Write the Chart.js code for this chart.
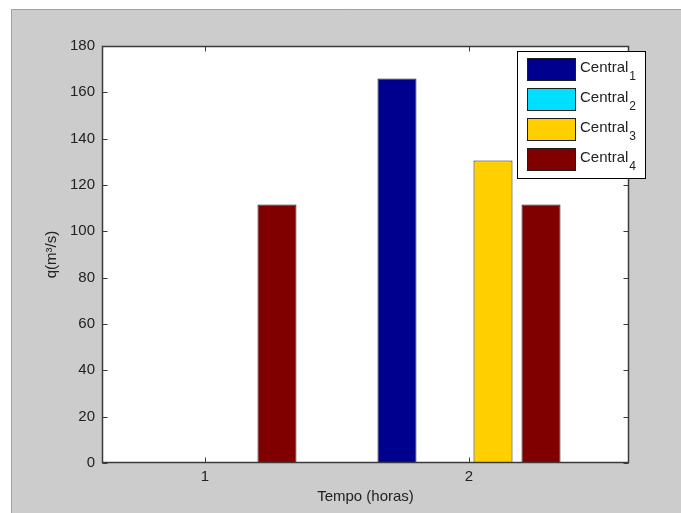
<!DOCTYPE html>
<html>
<head>
<meta charset="utf-8">
<script src="https://cdn.jsdelivr.net/npm/chart.js@4/dist/chart.umd.min.js"></script>
<style>
  html, body { margin: 0; padding: 0; background: #ffffff; }
  #wrap { width: 681px; height: 513px; }
</style>
</head>
<body>
<div id="wrap"><canvas id="c" width="681" height="513"></canvas></div>
<script>
// Hourly flow per plant (m3/s)
const periods = [1, 2];
const periodLabels = ['1', '2'];
const seriesNames = ['Central', 'Central', 'Central', 'Central'];
const seriesSubs = ['1', '2', '3', '4'];
const central1 = [0, 166];
const central2 = [0, 0];
const central3 = [0, 130.6];
const central4 = [111.6, 111.6];
const yTickValues = [0, 20, 40, 60, 80, 100, 120, 140, 160, 180];

const seriesValues = [central1, central2, central3, central4];
const seriesColors = ['#00008f', '#00dfff', '#ffcf00', '#800000'];

const FONT = '"Liberation Sans", Arial, sans-serif';
const TEXT = '#222222';
const AXIS = '#3a3a3a';
const EDGE = '#1e1e1e';

const datasets = seriesValues.map((vals, i) => ({
  label: seriesNames[i] + seriesSubs[i],
  data: periods.map((p, j) => ({ x: p, y: vals[j] })),
  backgroundColor: seriesColors[i],
  borderColor: EDGE,
  borderWidth: 1,
  borderSkipped: false,
  categoryPercentage: 0.7273,
  barPercentage: 0.8125
}));

// Figure frame, axes box, inward ticks and the legend with subscripts
const matlabLook = {
  id: 'matlabLook',
  beforeDraw(chart) {
    const { ctx, chartArea: a } = chart;
    ctx.save();
    ctx.fillStyle = '#ffffff';
    ctx.fillRect(0, 0, chart.width, chart.height);
    ctx.fillStyle = '#cccccc';
    ctx.fillRect(11, 9, chart.width - 11, chart.height - 9);
    ctx.strokeStyle = '#a0a0a0';
    ctx.lineWidth = 1;
    ctx.beginPath();
    ctx.moveTo(11.5, chart.height);
    ctx.lineTo(11.5, 9.5);
    ctx.lineTo(chart.width, 9.5);
    ctx.stroke();
    ctx.fillStyle = '#ffffff';
    ctx.fillRect(a.left, a.top, a.right - a.left, a.bottom - a.top);
    ctx.restore();
  },
  afterDatasetsDraw(chart) {
    const { ctx, chartArea: a, scales } = chart;
    const x = scales.x, y = scales.y;
    ctx.save();
    ctx.strokeStyle = AXIS;
    ctx.lineWidth = 1;
    const L = Math.round(a.left) + 0.5, R = Math.round(a.right) - 0.5;
    const T = Math.round(a.top) + 0.5, B = Math.round(a.bottom) - 0.5;
    ctx.beginPath();
    yTickValues.forEach(v => {
      const py = Math.round(y.getPixelForValue(v)) + 0.5;
      ctx.moveTo(L, py); ctx.lineTo(L + 5, py);
      ctx.moveTo(R, py); ctx.lineTo(R - 5, py);
    });
    periods.forEach(v => {
      const px = Math.round(x.getPixelForValue(v)) + 0.5;
      ctx.moveTo(px, B); ctx.lineTo(px, B - 5);
      ctx.moveTo(px, T); ctx.lineTo(px, T + 5);
    });
    ctx.stroke();
    ctx.lineWidth = 1.5;
    ctx.strokeRect(L, T, R - L, B - T);
    ctx.restore();
  },
  afterDraw(chart) {
    const { ctx } = chart;
    const bx = 517, by = 51, bw = 128, bh = 127;
    ctx.save();
    ctx.fillStyle = '#ffffff';
    ctx.fillRect(bx, by, bw, bh);
    ctx.strokeStyle = '#000000';
    ctx.lineWidth = 1;
    ctx.strokeRect(bx + 0.5, by + 0.5, bw, bh);
    seriesNames.forEach((name, i) => {
      const top = 58 + i * 30;
      ctx.fillStyle = seriesColors[i];
      ctx.fillRect(527, top, 49, 23);
      ctx.strokeStyle = EDGE;
      ctx.strokeRect(527.5, top + 0.5, 48, 22);
      ctx.fillStyle = TEXT;
      ctx.textAlign = 'left';
      ctx.textBaseline = 'alphabetic';
      ctx.font = '15px ' + FONT;
      ctx.fillText(name, 580, 72 + i * 30);
      const w = ctx.measureText(name).width;
      ctx.font = '12px ' + FONT;
      ctx.fillText(seriesSubs[i], 580 + w + 1, 79.5 + i * 30);
    });
    ctx.restore();
  }
};

new Chart(document.getElementById('c'), {
  type: 'bar',
  data: { datasets },
  options: {
    responsive: false,
    animation: false,
    devicePixelRatio: 1,
    layout: { padding: { left: 0, top: 46, right: 52, bottom: 0 } },
    plugins: { legend: { display: false }, tooltip: { enabled: false } },
    scales: {
      x: {
        type: 'linear',
        offset: false,
        min: 0.61,
        max: 2.606,
        grid: { display: false, drawTicks: false, offset: false },
        border: { display: false },
        afterBuildTicks: s => { s.ticks = periods.map(v => ({ value: v })); },
        afterFit: s => { s.height = 50; },
        ticks: {
          padding: 5,
          color: TEXT,
          font: { family: FONT, size: 15 },
          callback: (v) => periodLabels[periods.indexOf(v)] ?? ''
        },
        title: {
          display: true,
          text: 'Tempo (horas)',
          color: TEXT,
          font: { family: FONT, size: 15 },
          padding: { top: 0, bottom: 7 }
        }
      },
      y: {
        min: 0,
        max: 180,
        grid: { display: false, drawTicks: false },
        border: { display: false },
        afterBuildTicks: s => { s.ticks = yTickValues.map(v => ({ value: v })); },
        afterFit: s => { s.width = 102; },
        ticks: {
          padding: 7,
          color: TEXT,
          font: { family: FONT, size: 15 }
        },
        title: {
          display: true,
          text: 'q(m³/s)',
          color: TEXT,
          font: { family: FONT, size: 15 },
          padding: { top: 43, bottom: 0 }
        }
      }
    }
  },
  plugins: [matlabLook]
});
</script>
</body>
</html>
